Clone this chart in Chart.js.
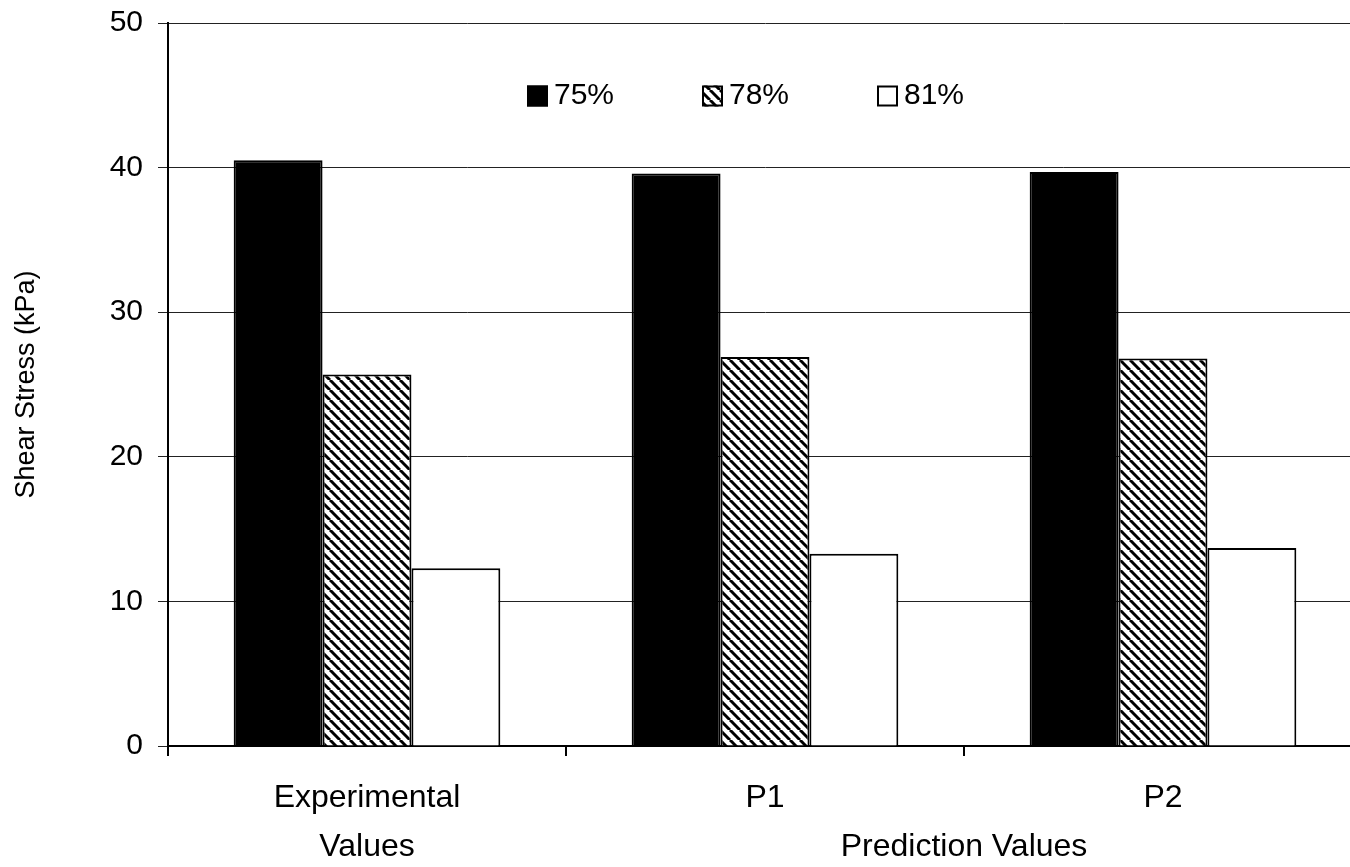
<!DOCTYPE html>
<html>
<head>
<meta charset="utf-8">
<script src="https://cdn.jsdelivr.net/npm/chart.js@4"></script>
<style>
html,body{margin:0;padding:0;background:#fff;overflow:hidden}
#wrap{width:1362px;height:867px}
</style>
</head>
<body>
<div id="wrap"><canvas id="c" width="1362" height="867"></canvas></div>
<script>
// data
const categories = [["Experimental","Values"], "P1", "P2"];
const seriesNames = ["75%", "78%", "81%"];
const s75 = [40.5, 39.6, 39.7];
const s78 = [25.7, 26.9, 26.8];
const s81 = [12.3, 13.3, 13.7];
const yTicks = [0, 10, 20, 30, 40, 50];
const groupLabel = "Prediction Values";
const groupIdx = [1, 2];

const FONT = '"Liberation Sans", Arial, sans-serif';
Chart.defaults.font.family = FONT;
Chart.defaults.color = "#000";

function hatch(){
  const c = document.createElement("canvas"); c.width = c.height = 10;
  const g = c.getContext("2d");
  g.fillStyle = "#fff"; g.fillRect(0,0,10,10);
  g.strokeStyle = "#000"; g.lineWidth = 3;
  for (const o of [-10,0,10]) { g.beginPath(); g.moveTo(o,0); g.lineTo(o+10,10); g.stroke(); }
  return g.createPattern(c, "repeat");
}

const TL = 10, XPAD = 17, XFONT = 32, XLH = 1.55;

// legend sits inside the plot, one row, fixed column width like the Excel original
const innerLegend = {
  id: "innerLegend",
  afterDraw(chart){
    const ctx = chart.ctx, a = chart.chartArea;
    const x0 = a.left + 359, cy = a.top + 73, step = 175, box = 21;
    ctx.save();
    ctx.font = "30px " + FONT; ctx.textBaseline = "middle"; ctx.textAlign = "left";
    chart.data.datasets.forEach((ds, i) => {
      const x = x0 + i*step;
      ctx.fillStyle = ds.backgroundColor;
      ctx.fillRect(x, cy - box/2, box, box);
      ctx.strokeStyle = "#000"; ctx.lineWidth = 2;
      ctx.strokeRect(x + 1, cy - box/2 + 1, box - 2, box - 2);
      ctx.fillStyle = "#000";
      ctx.fillText(ds.label, x + box + 6, cy);
    });
    ctx.restore();
  }
};

// second-level category label spanning P1 and P2
const groupText = {
  id: "groupText",
  afterDraw(chart){
    const x = chart.scales.x, ctx = chart.ctx;
    const px = groupIdx.reduce((s,i)=>s + x.getPixelForValue(i), 0) / groupIdx.length;
    const py = x.top + TL + XPAD + XFONT*XLH*1.5;
    ctx.save();
    ctx.font = XFONT + "px " + FONT;
    ctx.fillStyle = "#000"; ctx.textAlign = "center"; ctx.textBaseline = "middle";
    ctx.fillText(groupLabel, px, py);
    ctx.restore();
  }
};

const common = {borderColor:"#000", borderWidth:2, categoryPercentage:0.67, barPercentage:1};

new Chart(document.getElementById("c"), {
  type: "bar",
  data: {
    labels: categories,
    datasets: [
      {label: seriesNames[0], data: s75, backgroundColor: "#000", ...common},
      {label: seriesNames[1], data: s78, backgroundColor: hatch(), ...common},
      {label: seriesNames[2], data: s81, backgroundColor: "#fff", ...common}
    ]
  },
  options: {
    responsive: false, animation: false, devicePixelRatio: 1,
    layout: {padding: {top: 23, right: 0, bottom: 0, left: 0}},
    plugins: {tooltip: {enabled: false}, legend: {display: false}},
    scales: {
      x: {
        grid: {drawOnChartArea: false, drawTicks: true, tickLength: TL, color: "#000", lineWidth: 2},
        border: {color: "#000", width: 2},
        ticks: {font: {size: XFONT, lineHeight: XLH}, padding: XPAD, maxRotation: 0, autoSkip: false, color: "#000"},
        afterFit(s){ s.height = 121; }
      },
      y: {
        min: 0, max: 50,
        afterBuildTicks(s){ s.ticks = yTicks.map(v => ({value: v})); },
        grid: {color: "#222", lineWidth: 1, tickLength: TL},
        border: {color: "#000", width: 2},
        ticks: {font: {size: 30}, padding: 15, color: "#000"},
        title: {display: true, text: "Shear Stress (kPa)", font: {size: 27}, color: "#000", padding: {top: 10, bottom: 0}},
        afterFit(s){ s.width = 168; s.paddingTop = 0; s.paddingBottom = 0; }
      }
    }
  },
  plugins: [innerLegend, groupText]
});
</script>
</body>
</html>
